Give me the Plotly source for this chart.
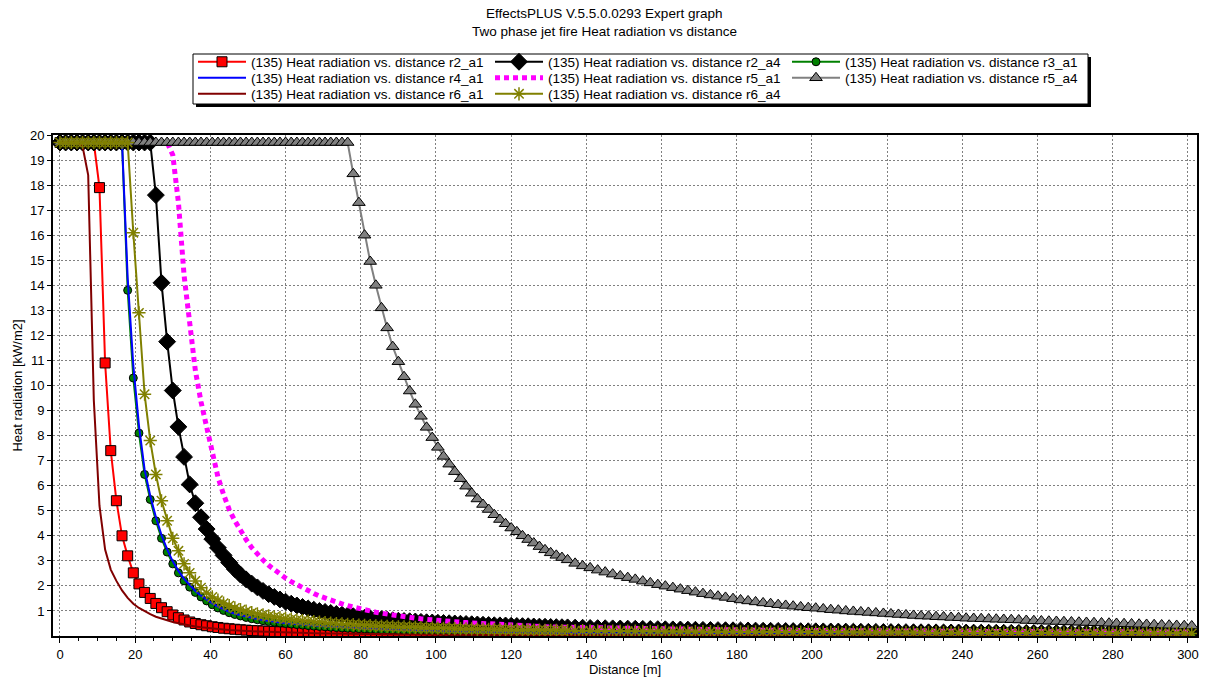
import plotly.graph_objects as go

# ---------------- data ----------------
distance = [
    0, 1.5, 3, 4.5, 6, 7.5, 9, 10.5, 12, 13.5,
    15, 16.5, 18, 19.5, 21, 22.5, 24, 25.5, 27, 28.5,
    30, 31.5, 33, 34.5, 36, 37.5, 39, 40.5, 42, 43.5,
    45, 46.5, 48, 49.5, 51, 52.5, 54, 55.5, 57, 58.5,
    60, 61.5, 63, 64.5, 66, 67.5, 69, 70.5, 72, 73.5,
    75, 76.5, 78, 79.5, 81, 82.5, 84, 85.5, 87, 88.5,
    90, 91.5, 93, 94.5, 96, 97.5, 99, 100.5, 102, 103.5,
    105, 106.5, 108, 109.5, 111, 112.5, 114, 115.5, 117, 118.5,
    120, 121.5, 123, 124.5, 126, 127.5, 129, 130.5, 132, 133.5,
    135,
    137, 139, 141, 143, 145, 147, 149, 151, 153, 155,
    157, 159, 161, 163, 165, 167, 169, 171, 173, 175,
    177, 179, 181, 183, 185, 187, 189, 191, 193, 195,
    197, 199, 201, 203, 205, 207, 209, 211, 213, 215,
    217, 219, 221, 223, 225, 227, 229, 231, 233, 235,
    237, 239, 241, 243, 245, 247, 249, 251, 253, 255,
    257, 259, 261, 263, 265, 267, 269, 271, 273, 275,
    277, 279, 281, 283, 285, 287, 289, 291, 293, 295,
    297, 299, 301,
]

r2_a1 = [
    19.7, 19.7, 19.7, 19.7, 19.7, 19.7, 19.7, 17.9, 10.9, 7.4,
    5.4, 4.0, 3.2, 2.52, 2.08, 1.74, 1.5, 1.3, 1.13, 0.97,
    0.84, 0.73, 0.64, 0.56, 0.5, 0.45, 0.41, 0.37, 0.34, 0.31,
    0.29, 0.27, 0.25, 0.235, 0.22, 0.21, 0.2, 0.19, 0.18, 0.17,
    0.165, 0.16, 0.155, 0.15, 0.145, 0.14, 0.135, 0.13, 0.126, 0.122,
    0.118, 0.114, 0.11, 0.107, 0.104, 0.101, 0.098, 0.095, 0.092, 0.09,
    0.088, 0.086, 0.084, 0.082, 0.08, 0.078, 0.076, 0.074, 0.072, 0.071,
    0.07, 0.068, 0.067, 0.066, 0.064, 0.063, 0.062, 0.061, 0.06, 0.059,
    0.058, 0.057, 0.056, 0.055, 0.054, 0.053, 0.052, 0.051, 0.05, 0.05,
    0.049,
    0.048, 0.047, 0.046, 0.045, 0.044, 0.043, 0.042, 0.041, 0.04, 0.04,
    0.039, 0.038, 0.037, 0.037, 0.036, 0.035, 0.035, 0.034, 0.033, 0.033,
    0.032, 0.032, 0.031, 0.031, 0.03, 0.03, 0.029, 0.029, 0.028, 0.028,
    0.027, 0.027, 0.026, 0.026, 0.025, 0.025, 0.025, 0.024, 0.024, 0.023,
    0.023, 0.023, 0.022, 0.022, 0.022, 0.021, 0.021, 0.021, 0.02, 0.02,
    0.02, 0.02, 0.019, 0.019, 0.019, 0.019, 0.018, 0.018, 0.018, 0.018,
    0.017, 0.017, 0.017, 0.017, 0.017, 0.016, 0.016, 0.016, 0.016, 0.016,
    0.015, 0.015, 0.015, 0.015, 0.015, 0.015, 0.014, 0.014, 0.014, 0.014,
    0.014, 0.014, 0.013,
]

r2_a4 = [
    19.7, 19.7, 19.7, 19.7, 19.7, 19.7, 19.7, 19.7, 19.7, 19.7,
    19.7, 19.7, 19.7, 19.7, 19.7, 19.7, 19.7, 17.6, 14.1, 11.75,
    9.8, 8.35, 7.15, 6.05, 5.3, 4.74, 4.27, 3.87, 3.52, 3.22,
    2.93, 2.67, 2.45, 2.26, 2.09, 1.94, 1.8, 1.67, 1.56, 1.46,
    1.37, 1.29, 1.22, 1.16, 1.1, 1.05, 1.0, 0.96, 0.92, 0.88,
    0.85, 0.82, 0.79, 0.76, 0.73, 0.71, 0.69, 0.67, 0.65, 0.63,
    0.61, 0.6, 0.59, 0.58, 0.565, 0.55, 0.54, 0.53, 0.52, 0.51,
    0.5, 0.49, 0.48, 0.47, 0.46, 0.45, 0.44, 0.43, 0.425, 0.42,
    0.41, 0.4, 0.395, 0.39, 0.38, 0.375, 0.37, 0.36, 0.355, 0.35,
    0.345,
    0.335, 0.33, 0.32, 0.315, 0.31, 0.305, 0.3, 0.295, 0.29, 0.285,
    0.28, 0.275, 0.27, 0.265, 0.26, 0.255, 0.25, 0.245, 0.24, 0.236,
    0.232, 0.228, 0.224, 0.22, 0.216, 0.212, 0.208, 0.204, 0.2, 0.197,
    0.194, 0.191, 0.188, 0.185, 0.182, 0.179, 0.176, 0.173, 0.17, 0.167,
    0.164, 0.161, 0.158, 0.156, 0.154, 0.152, 0.15, 0.148, 0.146, 0.144,
    0.142, 0.14, 0.138, 0.136, 0.134, 0.132, 0.13, 0.128, 0.126, 0.124,
    0.122, 0.12, 0.118, 0.117, 0.116, 0.115, 0.114, 0.113, 0.112, 0.111,
    0.11, 0.109, 0.108, 0.107, 0.106, 0.105, 0.104, 0.103, 0.102, 0.101,
    0.1, 0.099, 0.098,
]

r3_a1 = [
    19.7, 19.7, 19.7, 19.7, 19.7, 19.7, 19.7, 19.7, 19.7, 19.7,
    19.7, 19.7, 13.8, 10.3, 8.1, 6.45, 5.45, 4.6, 3.9, 3.35,
    2.88, 2.52, 2.2, 1.95, 1.74, 1.56, 1.4, 1.25, 1.12, 1.02,
    0.93, 0.86, 0.8, 0.74, 0.69, 0.65, 0.61, 0.58, 0.55, 0.52,
    0.5, 0.475, 0.455, 0.435, 0.415, 0.395, 0.38, 0.365, 0.35, 0.335,
    0.32, 0.31, 0.3, 0.29, 0.28, 0.27, 0.26, 0.252, 0.244, 0.236,
    0.228, 0.221, 0.214, 0.208, 0.202, 0.196, 0.19, 0.185, 0.18, 0.175,
    0.17, 0.166, 0.162, 0.158, 0.154, 0.15, 0.147, 0.144, 0.141, 0.138,
    0.135, 0.132, 0.129, 0.126, 0.124, 0.122, 0.12, 0.118, 0.116, 0.114,
    0.112,
    0.11, 0.107, 0.104, 0.101, 0.098, 0.096, 0.094, 0.092, 0.09, 0.088,
    0.086, 0.084, 0.082, 0.08, 0.078, 0.077, 0.076, 0.074, 0.073, 0.072,
    0.07, 0.069, 0.068, 0.066, 0.065, 0.064, 0.063, 0.062, 0.061, 0.06,
    0.059, 0.058, 0.057, 0.056, 0.055, 0.054, 0.053, 0.052, 0.052, 0.051,
    0.05, 0.049, 0.049, 0.048, 0.047, 0.047, 0.046, 0.045, 0.045, 0.044,
    0.044, 0.043, 0.042, 0.042, 0.041, 0.041, 0.04, 0.04, 0.039, 0.039,
    0.038, 0.038, 0.037, 0.037, 0.036, 0.036, 0.036, 0.035, 0.035, 0.034,
    0.034, 0.034, 0.033, 0.033, 0.033, 0.032, 0.032, 0.032, 0.031, 0.031,
    0.031, 0.03, 0.03,
]

r4_a1 = [
    19.7, 19.7, 19.7, 19.7, 19.7, 19.7, 19.7, 19.7, 19.7, 19.7,
    19.7, 19.7, 14.3, 10.8, 8.4, 6.65, 5.6, 4.75, 4.03, 3.46,
    2.98, 2.6, 2.28, 2.02, 1.8, 1.61, 1.45, 1.3, 1.17, 1.06,
    0.97, 0.89, 0.83, 0.77, 0.72, 0.68, 0.64, 0.6, 0.57, 0.54,
    0.52, 0.495, 0.475, 0.455, 0.435, 0.415, 0.4, 0.385, 0.37, 0.355,
    0.34, 0.328, 0.316, 0.305, 0.295, 0.285, 0.275, 0.266, 0.258, 0.25,
    0.242, 0.235, 0.228, 0.221, 0.215, 0.209, 0.203, 0.197, 0.192, 0.187,
    0.182, 0.177, 0.173, 0.169, 0.165, 0.161, 0.157, 0.154, 0.151, 0.148,
    0.145, 0.142, 0.139, 0.136, 0.134, 0.132, 0.13, 0.128, 0.126, 0.124,
    0.122,
    0.119, 0.116, 0.113, 0.11, 0.107, 0.104, 0.102, 0.1, 0.098, 0.096,
    0.094, 0.092, 0.09, 0.088, 0.086, 0.084, 0.083, 0.081, 0.08, 0.078,
    0.077, 0.075, 0.074, 0.073, 0.071, 0.07, 0.069, 0.068, 0.067, 0.066,
    0.065, 0.064, 0.063, 0.062, 0.061, 0.06, 0.059, 0.058, 0.057, 0.056,
    0.055, 0.055, 0.054, 0.053, 0.052, 0.052, 0.051, 0.05, 0.05, 0.049,
    0.048, 0.048, 0.047, 0.046, 0.046, 0.045, 0.045, 0.044, 0.044, 0.043,
    0.043, 0.042, 0.042, 0.041, 0.041, 0.04, 0.04, 0.04, 0.039, 0.039,
    0.038, 0.038, 0.038, 0.037, 0.037, 0.036, 0.036, 0.036, 0.035, 0.035,
    0.035, 0.034, 0.034,
]

r5_a1 = [
    19.7, 19.7, 19.7, 19.7, 19.7, 19.7, 19.7, 19.7, 19.7, 19.7,
    19.7, 19.7, 19.7, 19.7, 19.7, 19.7, 19.7, 19.7, 19.7, 19.7,
    19.2, 17.3, 14.4, 12.3, 10.6, 9.35, 8.35, 7.15, 6.35, 5.65,
    5.05, 4.6, 4.2, 3.85, 3.53, 3.26, 3.03, 2.82, 2.63, 2.46,
    2.31, 2.17, 2.04, 1.92, 1.81, 1.7, 1.6, 1.51, 1.43, 1.35,
    1.28, 1.21, 1.15, 1.1, 1.05, 1.0, 0.95, 0.91, 0.87, 0.83,
    0.8, 0.77, 0.74, 0.71, 0.685, 0.66, 0.64, 0.62, 0.6, 0.58,
    0.565, 0.55, 0.535, 0.52, 0.505, 0.49, 0.475, 0.46, 0.45, 0.44,
    0.43, 0.42, 0.41, 0.4, 0.39, 0.38, 0.37, 0.36, 0.355, 0.35,
    0.345,
    0.335, 0.33, 0.325, 0.32, 0.315, 0.31, 0.305, 0.3, 0.295, 0.29,
    0.285, 0.28, 0.276, 0.272, 0.268, 0.264, 0.26, 0.256, 0.252, 0.248,
    0.245, 0.242, 0.239, 0.236, 0.233, 0.23, 0.227, 0.224, 0.221, 0.218,
    0.216, 0.214, 0.212, 0.21, 0.208, 0.206, 0.204, 0.202, 0.2, 0.198,
    0.196, 0.195, 0.194, 0.193, 0.192, 0.191, 0.19, 0.189, 0.188, 0.187,
    0.186, 0.185, 0.184, 0.183, 0.182, 0.181, 0.18, 0.179, 0.178, 0.177,
    0.176, 0.175, 0.174, 0.173, 0.172, 0.171, 0.17, 0.169, 0.168, 0.167,
    0.166, 0.165, 0.164, 0.163, 0.162, 0.161, 0.16, 0.16, 0.159, 0.159,
    0.158, 0.158, 0.157,
]

r5_a4 = [
    19.7, 19.7, 19.7, 19.7, 19.7, 19.7, 19.7, 19.7, 19.7, 19.7,
    19.7, 19.7, 19.7, 19.7, 19.7, 19.7, 19.7, 19.7, 19.7, 19.7,
    19.7, 19.7, 19.7, 19.7, 19.7, 19.7, 19.7, 19.7, 19.7, 19.7,
    19.7, 19.7, 19.7, 19.7, 19.7, 19.7, 19.7, 19.7, 19.7, 19.7,
    19.7, 19.7, 19.7, 19.7, 19.7, 19.7, 19.7, 19.7, 19.7, 19.7,
    19.7, 19.7, 18.45, 17.3, 16.0, 14.95, 14.0, 13.1, 12.3, 11.55,
    10.95, 10.35, 9.78, 9.25, 8.77, 8.33, 7.92, 7.53, 7.17, 6.86,
    6.56, 6.28, 5.98, 5.7, 5.47, 5.25, 5.05, 4.84, 4.65, 4.48,
    4.31, 4.16, 4.0, 3.85, 3.71, 3.57, 3.44, 3.32, 3.22, 3.13,
    3.04,
    2.9, 2.8, 2.72, 2.63, 2.55, 2.47, 2.4, 2.33, 2.26, 2.19,
    2.12, 2.05, 1.99, 1.93, 1.87, 1.81, 1.75, 1.69, 1.64, 1.59,
    1.54, 1.49, 1.44, 1.4, 1.36, 1.32, 1.29, 1.25, 1.22, 1.19,
    1.16, 1.13, 1.11, 1.08, 1.05, 1.03, 1.0, 0.98, 0.96, 0.94,
    0.92, 0.9, 0.88, 0.86, 0.84, 0.82, 0.8, 0.79, 0.77, 0.76,
    0.74, 0.73, 0.71, 0.7, 0.69, 0.68, 0.67, 0.66, 0.65, 0.64,
    0.62, 0.61, 0.6, 0.59, 0.58, 0.57, 0.56, 0.55, 0.54, 0.53,
    0.52, 0.51, 0.5, 0.49, 0.48, 0.47, 0.46, 0.45, 0.44, 0.43,
    0.42, 0.41, 0.4,
]

r6_a1 = [
    19.7, 19.7, 19.7, 19.7, 19.55, 18.4, 9.4, 5.2, 3.45, 2.65,
    2.2, 1.82, 1.52, 1.29, 1.12, 0.98, 0.87, 0.77, 0.69, 0.62,
    0.56, 0.51, 0.46, 0.42, 0.38, 0.35, 0.32, 0.3, 0.28, 0.26,
    0.24, 0.22, 0.21, 0.2, 0.19, 0.18, 0.17, 0.16, 0.15, 0.145,
    0.14, 0.133, 0.127, 0.121, 0.116, 0.111, 0.106, 0.102, 0.098, 0.094,
    0.09, 0.087, 0.084, 0.081, 0.078, 0.075, 0.073, 0.071, 0.069, 0.067,
    0.065, 0.063, 0.061, 0.059, 0.057, 0.056, 0.055, 0.054, 0.053, 0.052,
    0.051, 0.05, 0.049, 0.048, 0.047, 0.046, 0.045, 0.044, 0.043, 0.042,
    0.041, 0.04, 0.04, 0.039, 0.038, 0.038, 0.037, 0.036, 0.036, 0.035,
    0.035,
    0.034, 0.033, 0.033, 0.032, 0.031, 0.031, 0.03, 0.03, 0.029, 0.029,
    0.028, 0.028, 0.027, 0.027, 0.026, 0.026, 0.025, 0.025, 0.025, 0.024,
    0.024, 0.023, 0.023, 0.023, 0.022, 0.022, 0.022, 0.021, 0.021, 0.021,
    0.02, 0.02, 0.02, 0.02, 0.019, 0.019, 0.019, 0.018, 0.018, 0.018,
    0.018, 0.017, 0.017, 0.017, 0.017, 0.016, 0.016, 0.016, 0.016, 0.016,
    0.015, 0.015, 0.015, 0.015, 0.015, 0.014, 0.014, 0.014, 0.014, 0.014,
    0.014, 0.013, 0.013, 0.013, 0.013, 0.013, 0.013, 0.012, 0.012, 0.012,
    0.012, 0.012, 0.012, 0.012, 0.011, 0.011, 0.011, 0.011, 0.011, 0.011,
    0.011, 0.01, 0.01,
]

r6_a4 = [
    19.7, 19.7, 19.7, 19.7, 19.7, 19.7, 19.7, 19.7, 19.7, 19.7,
    19.7, 19.7, 19.7, 16.1, 12.9, 9.65, 7.8, 6.45, 5.4, 4.6,
    3.9, 3.4, 2.88, 2.52, 2.2, 1.93, 1.72, 1.56, 1.43, 1.31,
    1.21, 1.12, 1.05, 0.99, 0.93, 0.88, 0.84, 0.8, 0.76, 0.73,
    0.7, 0.67, 0.64, 0.615, 0.595, 0.575, 0.555, 0.535, 0.515, 0.5,
    0.485, 0.47, 0.455, 0.44, 0.43, 0.42, 0.41, 0.4, 0.39, 0.38,
    0.37, 0.362, 0.354, 0.346, 0.338, 0.33, 0.323, 0.316, 0.31, 0.304,
    0.298, 0.292, 0.286, 0.281, 0.276, 0.271, 0.266, 0.262, 0.258, 0.254,
    0.25, 0.246, 0.242, 0.238, 0.235, 0.232, 0.229, 0.226, 0.223, 0.22,
    0.217,
    0.214, 0.211, 0.208, 0.205, 0.202, 0.199, 0.196, 0.194, 0.192, 0.19,
    0.188, 0.186, 0.184, 0.182, 0.18, 0.178, 0.176, 0.174, 0.172, 0.17,
    0.168, 0.166, 0.164, 0.163, 0.162, 0.16, 0.158, 0.157, 0.156, 0.154,
    0.153, 0.152, 0.15, 0.149, 0.148, 0.146, 0.145, 0.144, 0.143, 0.142,
    0.141, 0.14, 0.139, 0.138, 0.137, 0.136, 0.135, 0.134, 0.133, 0.132,
    0.131, 0.13, 0.129, 0.128, 0.127, 0.126, 0.125, 0.124, 0.123, 0.122,
    0.121, 0.12, 0.119, 0.118, 0.117, 0.117, 0.116, 0.115, 0.114, 0.113,
    0.113, 0.112, 0.111, 0.11, 0.11, 0.109, 0.108, 0.107, 0.107, 0.106,
    0.105, 0.105, 0.104,
]

series_names = [
    "(135) Heat radiation vs. distance r2_a1",
    "(135) Heat radiation vs. distance r2_a4",
    "(135) Heat radiation vs. distance r3_a1",
    "(135) Heat radiation vs. distance r4_a1",
    "(135) Heat radiation vs. distance r5_a1",
    "(135) Heat radiation vs. distance r5_a4",
    "(135) Heat radiation vs. distance r6_a1",
    "(135) Heat radiation vs. distance r6_a4",
]
series_values = [r2_a1, r2_a4, r3_a1, r4_a1, r5_a1, r5_a4, r6_a1, r6_a4]

x_ticks = [0, 20, 40, 60, 80, 100, 120, 140, 160, 180, 200, 220, 240, 260, 280, 300]
y_ticks = [1, 2, 3, 4, 5, 6, 7, 8, 9, 10, 11, 12, 13, 14, 15, 16, 17, 18, 19, 20]

title_lines = ["EffectsPLUS V.5.5.0.0293 Expert graph",
               "Two phase jet fire Heat radiation vs distance"]

for vals in series_values:
    assert len(vals) == len(distance), len(vals)

# ---------------- styles ----------------
styles = [
    dict(mode="lines+markers", line=dict(color="#FF0000", width=2),
         marker=dict(symbol="square", size=10, color="#FF0000", line=dict(color="black", width=1))),
    dict(mode="lines+markers", line=dict(color="#000000", width=2),
         marker=dict(symbol="diamond", size=13, color="#000000", line=dict(color="black", width=1))),
    dict(mode="lines+markers", line=dict(color="#008000", width=2),
         marker=dict(symbol="circle", size=8, color="#008000", line=dict(color="black", width=1))),
    dict(mode="lines", line=dict(color="#0000FF", width=2)),
    dict(mode="lines", line=dict(color="#FF00FF", width=5, dash="5px,4px")),
    dict(mode="lines+markers", line=dict(color="#808080", width=2),
         marker=dict(symbol="triangle-up", size=11, color="#808080", line=dict(color="black", width=1))),
    dict(mode="lines", line=dict(color="#800000", width=2)),
    dict(mode="lines+markers", line=dict(color="#808000", width=2),
         marker=dict(symbol="asterisk-open", size=11, color="#808000", line=dict(color="#808000", width=1.5))),
]
# legend row of each series (three entries per row, as in the reference)
legend_rows = ["legend", "legend", "legend", "legend2", "legend2", "legend2", "legend3", "legend3"]

fig = go.Figure()
for name, vals, st, lg in zip(series_names, series_values, styles, legend_rows):
    fig.add_trace(go.Scatter(x=distance, y=vals, name=name, legend=lg, **st))

FONT = "Liberation Sans, Arial, sans-serif"

# plot area in pixels: left 53, right 1197, top 135, bottom 636
PL, PR, PT, PB = 53, 1197, 135, 636
PW, PH = PR - PL, PB - PT


def px_x(p):
    return (p - PL) / PW


def px_y(p):
    return (PB - p) / PH


def legend_row(y_center):
    return dict(
        orientation="h",
        x=px_x(193), xanchor="left", xref="paper",
        y=px_y(y_center), yanchor="middle", yref="paper",
        itemwidth=48,
        entrywidth=234, entrywidthmode="pixels",
        borderwidth=0, bgcolor="rgba(0,0,0,0)",
        font=dict(family=FONT, size=13.5, color="black"),
    )


fig.update_layout(
    width=1208, height=677,
    margin=dict(l=PL, r=1208 - PR, t=PT, b=677 - PB),
    paper_bgcolor="white", plot_bgcolor="white",
    font=dict(family=FONT, size=13, color="black"),
    legend=legend_row(62),
    legend2=legend_row(78),
    legend3=legend_row(94),
    showlegend=True,
    annotations=[
        dict(text=title_lines[0], xref="paper", yref="paper", x=px_x(604), y=px_y(13),
             xanchor="center", yanchor="middle", showarrow=False,
             font=dict(family=FONT, size=13.5, color="black")),
        dict(text=title_lines[1], xref="paper", yref="paper", x=px_x(604), y=px_y(31),
             xanchor="center", yanchor="middle", showarrow=False,
             font=dict(family=FONT, size=13.5, color="black")),
    ],
    shapes=[
        # legend box shadow
        dict(type="rect", xref="paper", yref="paper",
             x0=px_x(196), x1=px_x(1091), y0=px_y(107), y1=px_y(57),
             fillcolor="black", line=dict(width=0), layer="below"),
        # legend box
        dict(type="rect", xref="paper", yref="paper",
             x0=px_x(193), x1=px_x(1088), y0=px_y(104), y1=px_y(54),
             fillcolor="white", line=dict(color="black", width=1), layer="below"),
    ],
)

fig.update_xaxes(
    range=[-1.86, 302.4],
    tickvals=x_ticks,
    ticks="outside", ticklen=5, tickcolor="black",
    minor=dict(dtick=5, tick0=0, ticks="outside", ticklen=3, tickcolor="black", showgrid=False),
    showgrid=True, gridcolor="#808080", griddash="2px,2px", gridwidth=1,
    showline=True, linecolor="black", linewidth=2, mirror=True,
    zeroline=False,
    title=dict(text="Distance [m]", standoff=4, font=dict(family=FONT, size=13)),
    tickfont=dict(family=FONT, size=13),
    automargin=False,
)
fig.update_yaxes(
    range=[0, 20],
    tickvals=y_ticks,
    ticks="outside", ticklen=4, tickcolor="black",
    showgrid=True, gridcolor="#808080", griddash="2px,2px", gridwidth=1,
    showline=True, linecolor="black", linewidth=2, mirror=True,
    zeroline=False,
    title=dict(text="Heat radiation [kW/m2]", standoff=4, font=dict(family=FONT, size=13)),
    tickfont=dict(family=FONT, size=13),
    automargin=False,
)

fig.write_html("out.html")
